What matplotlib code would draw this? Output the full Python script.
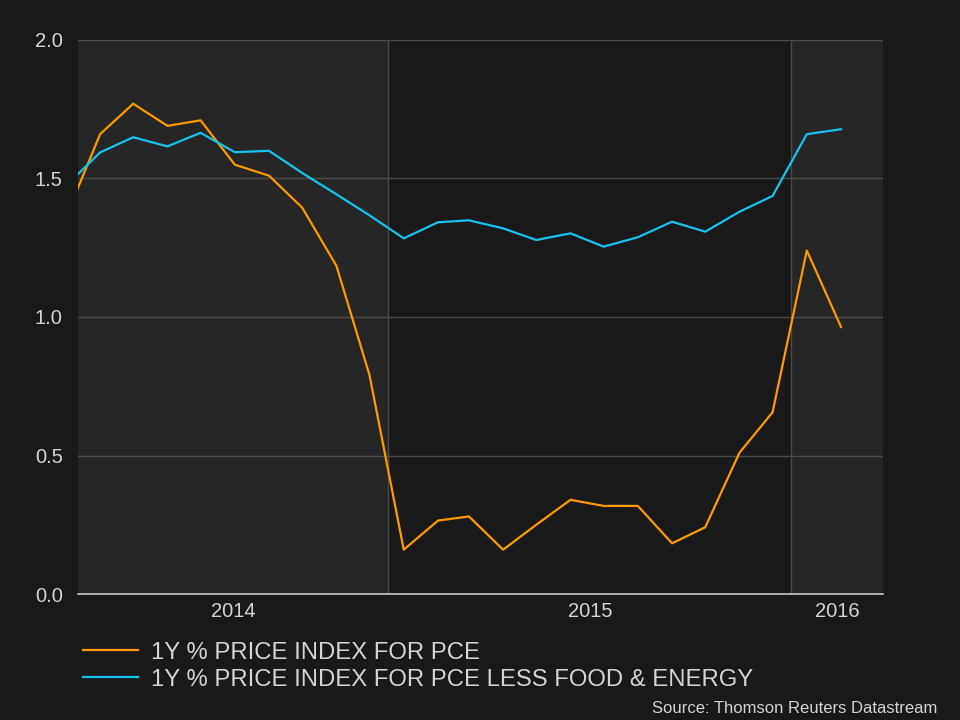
import matplotlib
matplotlib.use('Agg')
import matplotlib.pyplot as plt
import matplotlib.dates as mdates
import numpy as np
import datetime as dt

plt.rcParams['font.family'] = ['Liberation Sans', 'DejaVu Sans']

# monthly observations (plotted mid-month), Mar 2014 - Feb 2016
months = ['2014-03', '2014-04', '2014-05', '2014-06', '2014-07', '2014-08',
          '2014-09', '2014-10', '2014-11', '2014-12', '2015-01', '2015-02',
          '2015-03', '2015-04', '2015-05', '2015-06', '2015-07', '2015-08',
          '2015-09', '2015-10', '2015-11', '2015-12', '2016-01', '2016-02']
pce = [1.36, 1.66, 1.77, 1.69, 1.71, 1.55, 1.51, 1.395, 1.185, 0.79, 0.16, 0.265,
       0.28, 0.16, 0.25, 0.34, 0.318, 0.318, 0.183, 0.241, 0.51, 0.656, 1.24, 0.964]
core = [1.473, 1.594, 1.649, 1.616, 1.665, 1.595, 1.60, 1.52, 1.443, 1.367, 1.284, 1.342,
        1.349, 1.32, 1.278, 1.302, 1.254, 1.288, 1.344, 1.308, 1.38, 1.437, 1.66, 1.678]
labels = ['1Y % PRICE INDEX FOR PCE', '1Y % PRICE INDEX FOR PCE LESS FOOD & ENERGY']
years = [2014, 2015, 2016]

dates = [dt.datetime.strptime(m + '-15', '%Y-%m-%d') for m in months]
x0 = dt.datetime(2014, 3, 26)
x1 = dt.datetime(2016, 3, 24)

bg = '#191919'
band = '#262626'
grid = '#4a4a4a'
txt = '#d4d4d4'

fig = plt.figure(figsize=(9.6, 7.2), dpi=100, facecolor=bg)
ax = fig.add_axes([78/960, 1 - 594/720, (883-78)/960, (594-40)/720])
ax.set_facecolor(bg)

# alternate year shading
for y in years:
    s = max(dt.datetime(y, 1, 1), x0)
    e = min(dt.datetime(y + 1, 1, 1), x1)
    if y % 2 == 0:
        ax.axvspan(s, e, color=band, lw=0, zorder=0)
    if dt.datetime(y, 1, 1) > x0:
        ax.axvline(dt.datetime(y, 1, 1), color=grid, lw=1, zorder=1)

ln1, = ax.plot(dates, pce, color='#ff9900', lw=1.6, zorder=3, label=labels[0])
ln2, = ax.plot(dates, core, color='#14c3f0', lw=1.6, zorder=3, label=labels[1])

ax.set_xlim(x0, x1)
ax.set_ylim(0, 2.0)
ax.set_yticks(np.arange(0, 2.01, 0.5))
ax.set_yticklabels(['%.1f' % v for v in np.arange(0, 2.01, 0.5)])
ax.yaxis.grid(True, color=grid, lw=1, zorder=1)
ax.set_axisbelow(True)

# year labels centred on the visible part of each year
lx0 = mdates.date2num(x0)
lx1 = mdates.date2num(x1)
pos = []
for y in years:
    s = max(mdates.date2num(dt.datetime(y, 1, 1)), lx0)
    e = min(mdates.date2num(dt.datetime(y + 1, 1, 1)), lx1)
    pos.append((s + e) / 2)
ax.set_xticks(pos)
ax.set_xticklabels([str(y) for y in years])

ax.tick_params(axis='both', length=0, colors=txt, labelsize=14.5)
ax.tick_params(axis='x', pad=6)
ax.tick_params(axis='y', pad=11)
for sp in ['left', 'right', 'top']:
    ax.spines[sp].set_visible(False)
ax.spines['bottom'].set_color('#c8c8c8')
ax.spines['bottom'].set_linewidth(1.2)
ax.spines['bottom'].set_zorder(4)
# top border line at 2.0
ax.axhline(2.0, color=grid, lw=1.5, zorder=1)

leg = fig.legend([ln1, ln2], labels, loc='upper left',
                 bbox_to_anchor=(73/960, 1 - 632/720), frameon=False,
                 fontsize=17.2, handlelength=2.3, handletextpad=0.55,
                 labelspacing=0.22, borderaxespad=0)
for t in leg.get_texts():
    t.set_color(txt)

fig.text(937/960, 1 - 713/720, 'Source: Thomson Reuters Datastream',
         color=txt, fontsize=12, ha='right', va='baseline')

fig.savefig('out.png', dpi=100, facecolor=bg)
